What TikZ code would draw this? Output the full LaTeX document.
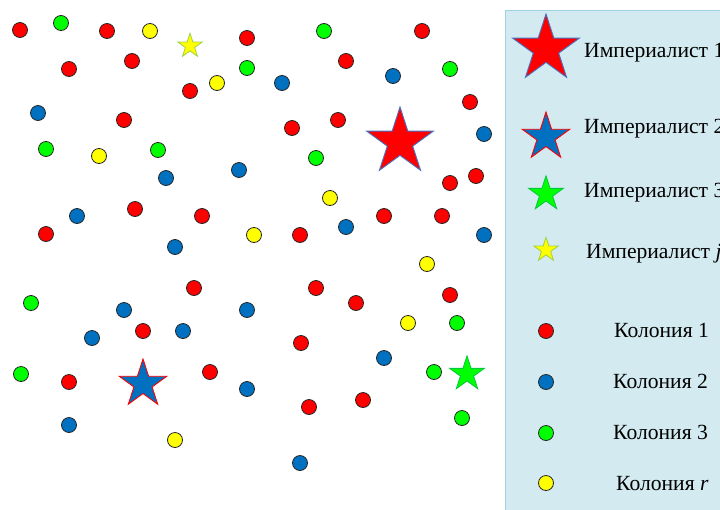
\documentclass[tikz,border=0pt]{standalone}
\usepackage{fontspec}
\setmainfont{Liberation Serif}
\definecolor{cRed}{RGB}{255,0,0}
\definecolor{cBlue}{RGB}{0,112,192}
\definecolor{cGreen}{RGB}{0,255,0}
\definecolor{cYellow}{RGB}{255,255,0}
\definecolor{legfill}{RGB}{210,234,240}
\definecolor{legdraw}{RGB}{160,210,230}
\definecolor{starblue}{RGB}{68,114,196}
\definecolor{stargreen}{RGB}{0,200,60}
\definecolor{staryellow}{RGB}{160,210,60}
\newcommand\pentastar[4]{%
  \draw[#4] (#1,#2) +(270:#3) -- +(306:{0.382*#3}) -- +(342:#3) -- +(18:{0.382*#3})
    -- +(54:#3) -- +(90:{0.382*#3}) -- +(126:#3) -- +(162:{0.382*#3})
    -- +(198:#3) -- +(234:{0.382*#3}) -- cycle;}
\begin{document}
\begin{tikzpicture}[x=1pt,y=-1pt,
  dot/.style={circle,draw=black!85,line width=0.8pt,inner sep=0pt,minimum size=15pt},
  dotr/.style={dot,fill=cRed},
  dotb/.style={dot,fill=cBlue},
  dotg/.style={dot,fill=cGreen},
  doty/.style={dot,fill=cYellow},
  legtext/.style={anchor=base west,inner sep=0pt,font=\fontsize{21.6}{26}\selectfont},
  impred/.style={fill=cRed,draw=starblue,line width=0.9pt,line join=miter},
  impblue/.style={fill=cBlue,draw=cRed,line width=0.9pt,line join=miter},
  impgreen/.style={fill=cGreen,draw=stargreen,line width=0.8pt,line join=miter},
  impyellow/.style={fill=cYellow,draw=staryellow,line width=0.8pt,line join=miter}]
\useasboundingbox (0,0) rectangle (720,509);
\clip (0,0) rectangle (720,509);
\fill[white] (0,0) rectangle (720,509);
% colonies
\foreach \x/\y [count=\i] in {20/30,107/31,247/38,422/31,69/69,132/61,190/91,346/61,470/102,
  124/120,292/128,338/120,450/183,476/176,135/209,202/216,384/216,442/216,46/234,300/235,
  194/288,316/288,450/295,356/303,143/331,301/343,69/382,210/372,309/407,363/400}
  \node[dotr] (r\i) at (\x,\y) {};
\foreach \x/\y [count=\i] in {282/83,393/76,38/113,484/134,166/178,239/170,77/216,175/247,
  346/227,484/235,124/310,247/310,92/338,183/331,384/358,247/389,69/425,300/463}
  \node[dotb] (b\i) at (\x,\y) {};
\foreach \x/\y [count=\i] in {61/23,324/31,247/68,450/69,46/149,158/150,316/158,31/303,
  457/323,21/374,434/372,462/418}
  \node[dotg] (g\i) at (\x,\y) {};
\foreach \x/\y [count=\i] in {150/31,217/83,99/156,330/198,254/235,427/264,408/323,175/440}
  \node[doty] (y\i) at (\x,\y) {};
% imperialists
\pentastar{400}{142}{35}{impred}
\pentastar{143}{384}{25}{impblue}
\pentastar{467}{374}{18.2}{impgreen}
\pentastar{190}{46}{12.7}{impyellow}
% legend
\draw[fill=legfill,draw=legdraw,line width=0.8pt] (505,10) rectangle (730,520);
\pentastar{546}{49}{35}{impred}
\pentastar{546}{137}{25}{impblue}
\pentastar{546}{194}{18.2}{impgreen}
\pentastar{546}{250}{12.7}{impyellow}
\node[legtext] (t1) at (584,57) {Империалист 1};
\node[legtext] (t2) at (584,133) {Империалист 2};
\node[legtext] (t3) at (584,197) {Империалист 3};
\node[legtext] (t4) at (586,258) {Империалист \textit{j}};
\node[dotr] (lr) at (546,331) {};
\node[dotb] (lb) at (546,382) {};
\node[dotg] (lg) at (546,433) {};
\node[doty] (ly) at (546,483) {};
\node[legtext] (k1) at (614,337) {Колония 1};
\node[legtext] (k2) at (613,388) {Колония 2};
\node[legtext] (k3) at (613,439) {Колония 3};
\node[legtext] (k4) at (616,490) {Колония \textit{r}};
\end{tikzpicture}
\end{document}
